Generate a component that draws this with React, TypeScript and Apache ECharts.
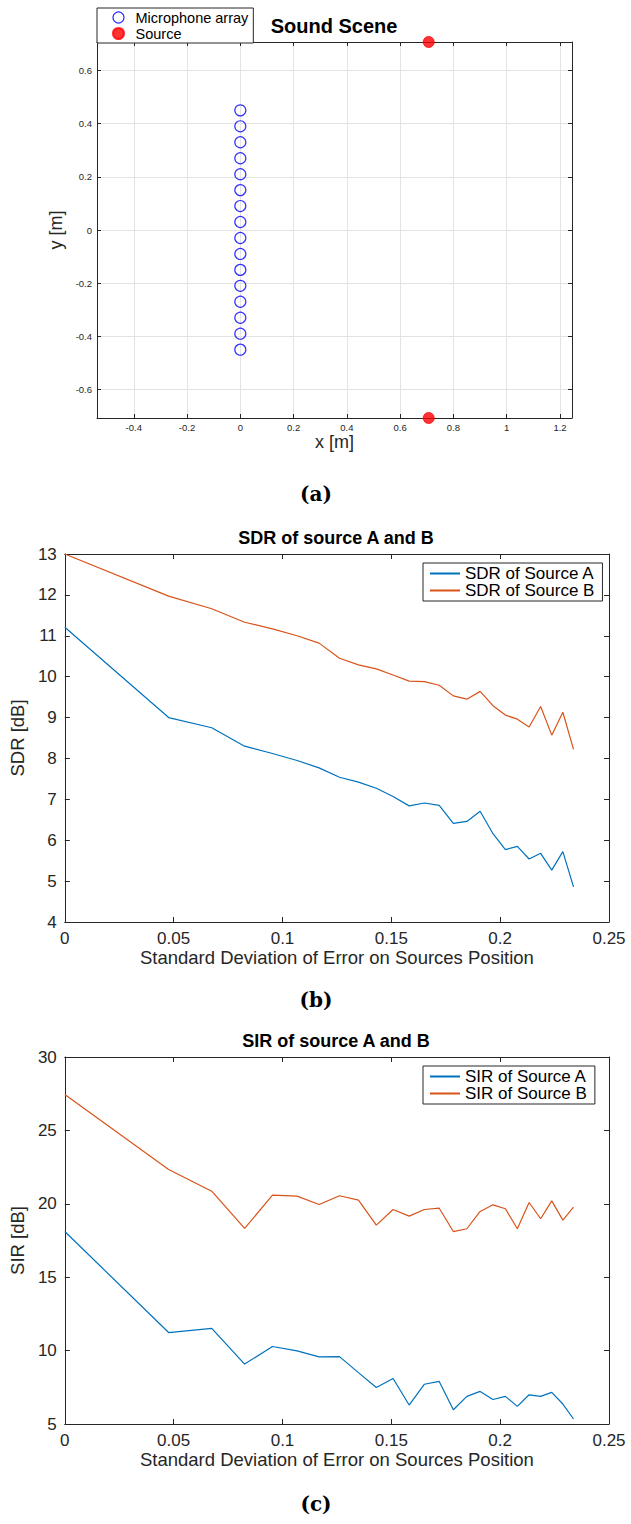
import React, { useEffect, useRef } from 'react';
import * as echarts from 'echarts';

// Sound scene geometry
const micX = 0;
const micY = [0.45, 0.39, 0.33, 0.27, 0.21, 0.15, 0.09, 0.03, -0.03, -0.09, -0.15, -0.21, -0.27, -0.33, -0.39, -0.45];
const sourceX = [0.7071, 0.7071];
const sourceY = [0.7071, -0.7071];
const sceneXTicks = [-0.4, -0.2, 0, 0.2, 0.4, 0.6, 0.8, 1, 1.2];
const sceneYTicks = [-0.6, -0.4, -0.2, 0, 0.2, 0.4, 0.6];

// Separation metrics vs. standard deviation of the position error
const stdError = [0, 0.0477, 0.0675, 0.0826, 0.0954, 0.1067, 0.1168, 0.1262, 0.1349, 0.1431, 0.1508, 0.1582, 0.1652, 0.172, 0.1785, 0.1847, 0.1908, 0.1967, 0.2024, 0.2079, 0.2133, 0.2186, 0.2237, 0.2288, 0.2337];
const sdrA = [11.21, 9.0, 8.75, 8.3, 8.12, 7.95, 7.77, 7.54, 7.42, 7.27, 7.07, 6.84, 6.91, 6.85, 6.41, 6.46, 6.71, 6.16, 5.77, 5.85, 5.54, 5.68, 5.27, 5.72, 4.86];
const sdrB = [13.0, 11.97, 11.66, 11.33, 11.17, 11.0, 10.82, 10.45, 10.29, 10.19, 10.04, 9.89, 9.88, 9.79, 9.53, 9.45, 9.64, 9.29, 9.06, 8.96, 8.77, 9.27, 8.57, 9.13, 8.22];
const sirA = [18.11, 11.23, 11.52, 9.08, 10.28, 9.98, 9.57, 9.59, 8.5, 7.49, 8.1, 6.29, 7.71, 7.9, 5.97, 6.88, 7.22, 6.67, 6.88, 6.2, 6.99, 6.88, 7.15, 6.36, 5.34];
const sirB = [27.45, 22.34, 20.86, 18.32, 20.59, 20.52, 19.95, 20.55, 20.25, 18.55, 19.61, 19.16, 19.61, 19.7, 18.11, 18.3, 19.48, 19.93, 19.66, 18.3, 20.09, 18.98, 20.2, 18.89, 19.77];

const FONT = '"Liberation Sans", Arial, Helvetica, sans-serif';
const AXIS = '#262626';
const BLUE = '#0072BD';
const ORANGE = '#D95319';

const pairs = (xs: number[], ys: number[]) => xs.map((x, i) => [x, ys[i]]);

function sceneAxis(kind: 'x' | 'y', position: string, showLabel: boolean, name?: string) {
  const ticks = kind === 'x' ? sceneXTicks : sceneYTicks;
  return {
    type: 'value',
    gridIndex: 0,
    position,
    min: kind === 'x' ? -0.538 : -0.7071,
    max: kind === 'x' ? 1.245 : 0.7071,
    axisLine: { show: true, onZero: false, lineStyle: { color: AXIS, width: 1 } },
    axisTick: { show: true, inside: true, length: 4, customValues: ticks, lineStyle: { color: AXIS } },
    axisLabel: {
      show: showLabel,
      customValues: ticks,
      fontSize: 9.5,
      fontFamily: FONT,
      color: AXIS,
      margin: kind === 'x' ? 4 : 5,
    },
    splitLine: { show: showLabel, lineStyle: { color: '#e3e3e3', width: 1 } },
    name,
    nameLocation: 'middle',
    nameGap: kind === 'x' ? 13 : 17,
    nameTextStyle: { fontSize: 18, fontFamily: FONT, color: AXIS },
  };
}

function metricAxis(
  grid: number,
  position: string,
  min: number,
  max: number,
  interval: number,
  showLabel: boolean,
  name?: string,
) {
  const horizontal = position === 'bottom' || position === 'top';
  return {
    type: 'value',
    gridIndex: grid,
    position,
    min,
    max,
    interval,
    axisLine: { show: true, onZero: false, lineStyle: { color: AXIS, width: 1 } },
    axisTick: { show: true, inside: true, length: 5, lineStyle: { color: AXIS } },
    axisLabel: {
      show: showLabel,
      fontSize: 17,
      fontFamily: FONT,
      color: AXIS,
      margin: 8,
    },
    splitLine: { show: false },
    name,
    nameLocation: 'middle',
    nameGap: horizontal ? 26 : 28,
    nameTextStyle: { fontSize: 18.5, fontFamily: FONT, color: AXIS },
  };
}

function metricLegend(top: number, names: string[]) {
  return {
    orient: 'vertical',
    left: 423,
    top,
    width: 177,
    selectedMode: false,
    padding: [2, 8, 2, 6],
    itemGap: 0,
    itemWidth: 30,
    itemHeight: 2,
    itemStyle: { opacity: 0 },
    backgroundColor: '#fff',
    borderColor: AXIS,
    borderWidth: 1,
    borderRadius: 0,
    textStyle: { fontSize: 17, fontFamily: FONT, color: '#000', lineHeight: 17 },
    data: names,
  };
}

function lineSeries(name: string, x: number, ys: number[], color: string) {
  return {
    type: 'line',
    name,
    xAxisIndex: x,
    yAxisIndex: x,
    data: pairs(stdError, ys),
    symbol: 'none',
    lineStyle: { color, width: 1.2 },
    itemStyle: { color },
  };
}

function caption(text: string, y: number) {
  return {
    type: 'text',
    x: 316,
    y,
    style: {
      text,
      font: 'bold 20px "DejaVu Serif", serif',
      fill: '#000',
      textAlign: 'center',
      textVerticalAlign: 'middle',
    },
  };
}

function heading(text: string, x: number, y: number, size: number) {
  return {
    type: 'text',
    x,
    y,
    style: {
      text,
      font: `bold ${size}px ${FONT}`,
      fill: '#000',
      textAlign: 'center',
      textVerticalAlign: 'middle',
    },
  };
}

export default function App() {
  const ref = useRef<HTMLDivElement>(null);

  useEffect(() => {
    if (!ref.current) return;
    const chart = echarts.init(ref.current, undefined, { renderer: 'svg' });
    chart.setOption({
      animation: false,
      backgroundColor: '#fff',
      grid: [
        { left: 97, top: 42, width: 475, height: 376, containLabel: false },
        { left: 63, top: 554, width: 546, height: 368, containLabel: false },
        { left: 63, top: 1057, width: 546, height: 367, containLabel: false },
      ],
      xAxis: [
        sceneAxis('x', 'bottom', true, 'x [m]'),
        sceneAxis('x', 'top', false),
        metricAxis(1, 'bottom', 0, 0.25, 0.05, true, 'Standard Deviation of Error on Sources Position'),
        metricAxis(1, 'top', 0, 0.25, 0.05, false),
        metricAxis(2, 'bottom', 0, 0.25, 0.05, true, 'Standard Deviation of Error on Sources Position'),
        metricAxis(2, 'top', 0, 0.25, 0.05, false),
      ],
      yAxis: [
        sceneAxis('y', 'left', true, 'y [m]'),
        sceneAxis('y', 'right', false),
        metricAxis(1, 'left', 4, 13, 1, true, 'SDR [dB]'),
        metricAxis(1, 'right', 4, 13, 1, false),
        metricAxis(2, 'left', 5, 30, 5, true, 'SIR [dB]'),
        metricAxis(2, 'right', 5, 30, 5, false),
      ],
      legend: [
        {
          orient: 'vertical',
          left: 97,
          top: 8,
          selectedMode: false,
          padding: [2, 5, 2, 15],
          itemGap: 1,
          itemWidth: 24,
          itemHeight: 11,
          backgroundColor: '#fff',
          borderColor: AXIS,
          borderWidth: 1,
          textStyle: { fontSize: 14.5, fontFamily: FONT, color: '#000', lineHeight: 15 },
          data: [
            {
              name: 'Microphone array',
              icon: 'circle',
              itemStyle: { color: 'rgba(0,0,0,0)', borderColor: '#0000ff', borderWidth: 1.2 },
            },
            { name: 'Source', icon: 'circle', itemStyle: { color: '#ff0000', borderColor: '#ff0000' } },
          ],
        },
        metricLegend(563, ['SDR of Source A', 'SDR of Source B']),
        metricLegend(1066, ['SIR of Source A', 'SIR of Source B']),
      ],
      series: [
        {
          type: 'scatter',
          name: 'Microphone array',
          xAxisIndex: 0,
          yAxisIndex: 0,
          data: micY.map((y) => [micX, y]),
          symbol: 'circle',
          symbolSize: 11,
          clip: false,
          itemStyle: { color: 'rgba(0,0,0,0)', borderColor: '#0000ff', borderWidth: 1.2 },
        },
        {
          type: 'scatter',
          name: 'Source',
          xAxisIndex: 0,
          yAxisIndex: 0,
          data: pairs(sourceX, sourceY),
          symbol: 'circle',
          symbolSize: 11,
          clip: false,
          itemStyle: { color: '#ff0000', borderColor: '#ff0000', borderWidth: 1 },
        },
        lineSeries('SDR of Source A', 2, sdrA, BLUE),
        lineSeries('SDR of Source B', 2, sdrB, ORANGE),
        lineSeries('SIR of Source A', 4, sirA, BLUE),
        lineSeries('SIR of Source B', 4, sirB, ORANGE),
      ],
      graphic: [
        heading('Sound Scene', 334, 26, 20),
        heading('SDR of source A and B', 336, 538, 18),
        heading('SIR of source A and B', 336, 1041, 18),
        caption('(a)', 494),
        caption('(b)', 1000),
        caption('(c)', 1504),
      ],
    });
    return () => chart.dispose();
  }, []);

  return (
    <div
      ref={ref}
      style={{ position: 'absolute', left: 0, top: 0, width: 631, height: 1524, background: '#fff' }}
    />
  );
}
